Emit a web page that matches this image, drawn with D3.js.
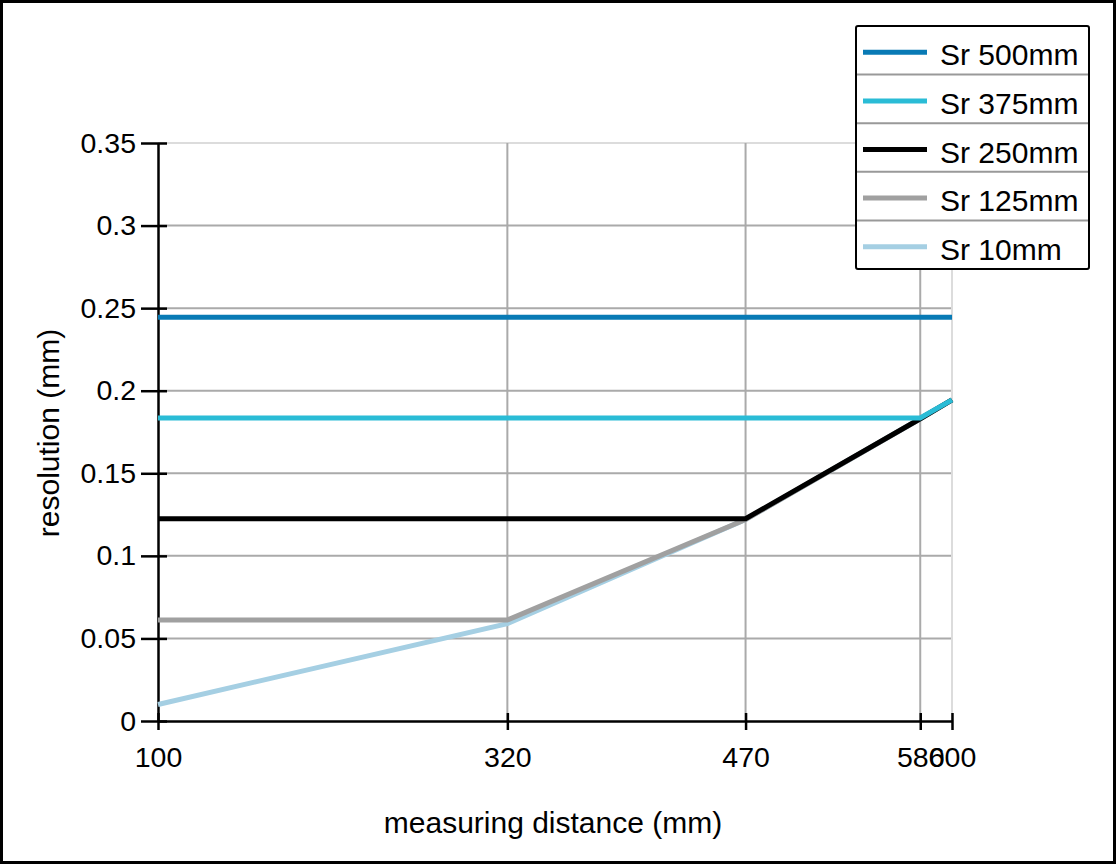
<!DOCTYPE html>
<html>
<head>
<meta charset="utf-8">
<script src="https://cdn.jsdelivr.net/npm/d3@7"></script>
<style>
  html, body { margin: 0; padding: 0; background: #fff; }
  svg text { font-family: "Liberation Sans", Arial, sans-serif; fill: #000; }
</style>
</head>
<body>
<div id="chart"></div>
<script>
const distances = [100, 320, 470, 580, 600];
const xTicks = [100, 320, 470, 580, 600];
const yTicks = [0, 0.05, 0.1, 0.15, 0.2, 0.25, 0.3, 0.35];

const seriesNames = ['Sr 500mm', 'Sr 375mm', 'Sr 250mm', 'Sr 125mm', 'Sr 10mm'];
const sr500 = [0.2445, 0.2445, 0.2445, 0.2445, 0.2445];
const sr375 = [0.1835, 0.1835, 0.1835, 0.1835, 0.1945];
const sr250 = [0.1225, 0.1225, 0.1225, 0.1830, 0.1945];
const sr125 = [0.0612, 0.0612, 0.1220, 0.1830, 0.1945];
const sr10  = [0.0100, 0.0590, 0.1220, 0.1830, 0.1945];
const seriesColors = ['#087ab5', '#2abcd6', '#000000', '#a0a0a0', '#a5cfe3'];

function drawChart() {
    const W = 1116, H = 864;
    const margin = { top: 143, right: 164, bottom: 143, left: 158 };
    const width = W - margin.left - margin.right;
    const height = H - margin.top - margin.bottom;

    const svg = d3.select('#chart')
        .append('svg')
        .attr('width', W)
        .attr('height', H);

    // outer frame
    svg.append('rect')
        .attr('x', 1.5)
        .attr('y', 1.5)
        .attr('width', W - 3)
        .attr('height', H - 3)
        .attr('fill', 'none')
        .attr('stroke', '#000')
        .attr('stroke-width', 3);

    const g = svg.append('g')
        .attr('transform', `translate(${margin.left}, ${margin.top})`);

    const xScale = d3.scaleLinear()
        .domain([100, 600])
        .range([0, width]);

    const yScale = d3.scaleLinear()
        .domain([0, 0.35])
        .range([height, 0]);

    // grid
    g.selectAll('.hgrid')
        .data(yTicks.filter(d => d > 0))
        .enter()
        .append('line')
        .attr('class', 'hgrid')
        .attr('x1', 0)
        .attr('x2', width)
        .attr('y1', d => yScale(d))
        .attr('y2', d => yScale(d))
        .attr('stroke', d => d === 0.35 ? '#dcdcdc' : '#aaaaaa')
        .attr('stroke-width', 2);

    g.selectAll('.vgrid')
        .data(xTicks.filter(d => d > 100))
        .enter()
        .append('line')
        .attr('class', 'vgrid')
        .attr('x1', d => xScale(d))
        .attr('x2', d => xScale(d))
        .attr('y1', 0)
        .attr('y2', height)
        .attr('stroke', d => d === 600 ? '#dcdcdc' : '#aaaaaa')
        .attr('stroke-width', 2);

    // axes
    const xAxis = g.append('g')
        .attr('transform', `translate(0, ${height})`)
        .call(d3.axisBottom(xScale)
            .tickValues(xTicks)
            .tickFormat(d3.format('d'))
            .tickSizeInner(9)
            .tickSizeOuter(0)
            .tickPadding(17));

    const yAxis = g.append('g')
        .call(d3.axisLeft(yScale)
            .tickValues(yTicks)
            .tickFormat(d => d === 0 ? '0' : String(+d.toFixed(2)))
            .tickSizeInner(9)
            .tickSizeOuter(0)
            .tickPadding(13));

    [xAxis, yAxis].forEach(ax => {
        ax.select('.domain').attr('stroke', '#000').attr('stroke-width', 2.5);
        ax.selectAll('.tick line').attr('stroke', '#000').attr('stroke-width', 2.5);
        ax.selectAll('.tick text')
            .style('font-size', '28.5px')
            .attr('fill', '#000');
    });

    // ticks cross the axis
    xAxis.selectAll('.tick line').attr('y1', -8).attr('y2', 9);
    yAxis.selectAll('.tick line').attr('x1', 9).attr('x2', -17);
    xAxis.selectAll('.tick text').attr('dy', '0.71em');

    // axis titles
    g.append('text')
        .attr('x', width / 2 - 2)
        .attr('y', height + 112)
        .attr('text-anchor', 'middle')
        .style('font-size', '30px')
        .text('measuring distance (mm)');

    g.append('text')
        .attr('transform', 'rotate(-90)')
        .attr('x', -290)
        .attr('y', -99)
        .attr('text-anchor', 'middle')
        .style('font-size', '30px')
        .text('resolution (mm)');

    // lines
    const allSeries = [sr500, sr375, sr250, sr125, sr10];
    const lineData = seriesNames.map((name, i) => ({
        name: name,
        color: seriesColors[i],
        values: allSeries[i].map((v, j) => ({ x: distances[j], y: v }))
    }));

    const line = d3.line()
        .x(d => xScale(d.x))
        .y(d => yScale(d.y));

    // draw from bottom to top so darker lines sit above
    g.selectAll('.line')
        .data(lineData.slice().reverse())
        .enter()
        .append('path')
        .attr('class', 'line')
        .attr('d', d => line(d.values))
        .attr('fill', 'none')
        .attr('stroke', d => d.color)
        .attr('stroke-width', 5);

    // legend
    const legendX = 856, legendY = 26, legendW = 233, rowH = 48.6;
    const legend = svg.append('g')
        .attr('class', 'legend')
        .attr('transform', `translate(${legendX}, ${legendY})`);

    legend.append('rect')
        .attr('x', 0)
        .attr('y', 0)
        .attr('width', legendW)
        .attr('height', rowH * seriesNames.length)
        .attr('fill', '#fff')
        .attr('stroke', '#000')
        .attr('stroke-width', 2)
        .attr('rx', 2);

    legend.selectAll('.sep')
        .data(d3.range(1, seriesNames.length))
        .enter()
        .append('line')
        .attr('x1', 1)
        .attr('x2', legendW - 1)
        .attr('y1', d => d * rowH)
        .attr('y2', d => d * rowH)
        .attr('stroke', '#999')
        .attr('stroke-width', 2);

    legend.selectAll('.legend-item')
        .data(lineData)
        .enter()
        .append('g')
        .attr('class', 'legend-item')
        .attr('transform', (d, i) => `translate(0, ${i * rowH + rowH / 2})`)
        .each(function(d) {
            const item = d3.select(this);
            item.append('line')
                .attr('x1', 7)
                .attr('x2', 71)
                .attr('y1', 2)
                .attr('y2', 2)
                .attr('stroke', d.color)
                .attr('stroke-width', 5);
            item.append('text')
                .attr('x', 84)
                .attr('y', 15)
                .style('font-size', '30px')
                .text(d.name);
        });
}

drawChart();
</script>
</body>
</html>
